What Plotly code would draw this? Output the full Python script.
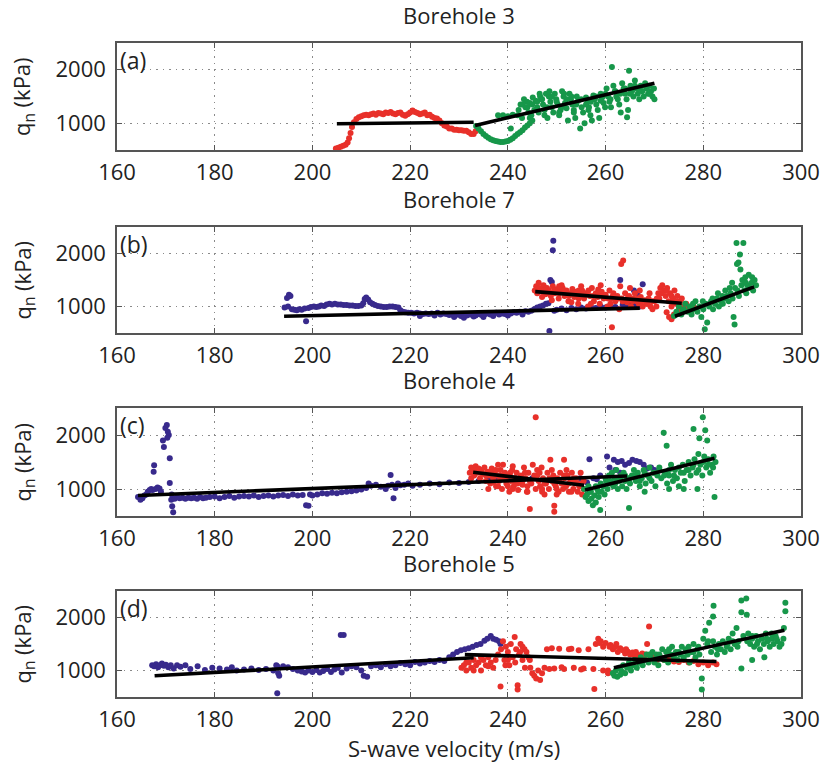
import plotly.graph_objects as go

# ---------------------------------------------------------------------------
# Net cone resistance q_n (kPa) against shear-wave velocity Vs (m/s)
# Each series is a list of (Vs, q_n) pairs; fits are (start, end) pairs.
# ---------------------------------------------------------------------------

bh3_red = [(204.8, 530), (205.3, 540), (205.8, 560), (206.3, 580), (206.8, 600), (207.2, 640),
           (207.5, 720), (207.8, 820), (208.1, 930), (208.5, 1020), (209.0, 1080), (209.5, 1110),
           (210.0, 1130), (210.5, 1150), (211.0, 1160), (211.5, 1150), (212.0, 1170), (212.5, 1180),
           (213.0, 1160), (213.5, 1190), (214.0, 1180), (214.5, 1170), (215.0, 1200), (215.5, 1190),
           (216.0, 1210), (216.5, 1180), (217.0, 1170), (217.5, 1190), (218.0, 1200), (218.5, 1160),
           (219.0, 1140), (219.5, 1170), (220.0, 1200), (220.5, 1240), (221.0, 1210), (221.5, 1190),
           (222.0, 1170), (222.5, 1180), (223.0, 1200), (223.5, 1150), (224.0, 1160), (224.5, 1120),
           (225.0, 1100), (225.5, 1090), (226.0, 1050), (226.5, 1000), (227.0, 960), (227.5, 940),
           (228.0, 900), (228.5, 900), (229.0, 880), (229.5, 880), (230.0, 870), (230.5, 870),
           (231.0, 860), (231.5, 860), (232.0, 830), (232.5, 800), (233.0, 800), (233.4, 850)]

bh3_green = [(233.5, 950), (234.0, 900), (234.5, 850), (235.0, 800), (235.5, 760), (236.0, 730),
             (236.5, 700), (237.0, 680), (237.5, 670), (238.0, 660), (238.5, 650), (239.0, 650),
             (239.5, 660), (240.0, 670), (240.5, 690), (241.0, 720), (241.5, 760), (242.0, 800),
             (242.5, 830), (243.0, 870), (243.5, 920), (244.0, 960), (244.5, 1000), (245.0, 1050),
             (238.0, 1150), (239.0, 1150), (240.0, 1130), (241.0, 1160), (240.6, 900),
             (242.2, 1250), (242.6, 1350), (242.9, 1100), (243.3, 1450), (243.6, 1300), (243.9, 1400),
             (244.2, 1200), (244.5, 1380), (244.8, 1150), (245.1, 1480), (245.4, 1250), (245.7, 1420),
             (246.0, 1300), (246.3, 1200), (246.6, 1500), (246.9, 1450), (247.2, 1350), (247.5, 1250),
             (247.8, 1550), (248.1, 1100), (248.4, 1500), (248.7, 1400), (249.0, 1300), (249.3, 1200),
             (249.6, 1550), (249.9, 1450), (250.2, 1350), (250.5, 1150), (250.8, 1250), (251.1, 1600),
             (251.4, 1500), (251.7, 1380), (252.0, 1280), (252.3, 1050), (252.6, 1550), (252.9, 1450),
             (253.2, 1350), (253.5, 1250), (253.8, 1100), (254.1, 1500), (254.4, 1420), (254.8, 900),
             (255.1, 1300), (255.4, 1200), (255.7, 1000), (256.0, 1480), (256.3, 1400), (256.6, 1300),
             (256.9, 1150), (257.2, 1050), (257.5, 1520), (257.8, 1450), (258.1, 1350), (258.4, 1250),
             (258.7, 1100), (259.0, 1550), (259.3, 1480), (259.6, 1380), (259.9, 1300), (260.2, 1650),
             (260.5, 1500), (260.8, 1400), (261.1, 1300), (261.3, 2050), (261.6, 1700), (261.9, 1600),
             (262.2, 1500), (262.5, 1450), (262.8, 1350), (263.1, 1200), (263.4, 1750), (263.7, 1650),
             (264.0, 1550), (264.3, 1450), (264.4, 1110), (264.6, 1250), (264.8, 1980), (265.1, 1700),
             (265.4, 1600), (265.7, 1500), (266.0, 1800), (266.3, 1650), (266.6, 1550), (266.9, 1450),
             (267.2, 1700), (267.5, 1600), (267.8, 1500), (268.1, 1750), (268.4, 1650), (268.7, 1550),
             (269.0, 1700), (269.3, 1600), (269.6, 1500), (269.9, 1650), (270.0, 1450),
             (242.0, 1150), (243.0, 1350), (244.0, 1300), (245.0, 1350), (246.0, 1400), (247.0, 1450),
             (248.0, 1300), (249.0, 1500), (250.0, 1400), (251.0, 1300), (252.0, 1450), (253.0, 1500),
             (254.0, 1350), (255.0, 1450), (256.0, 1350), (257.0, 1400), (258.0, 1500), (259.0, 1420),
             (260.0, 1550), (261.0, 1450), (262.0, 1600), (263.0, 1550), (264.0, 1650), (265.0, 1550),
             (266.0, 1700), (267.0, 1650), (268.0, 1700), (269.0, 1550), (246.5, 1550), (248.5, 1600),
             (251.5, 1550), (244.5, 1100), (247.5, 1150), (250.5, 1200), (253.5, 1200), (256.5, 1250)]

bh7_blue = [(194.3, 980), (194.8, 1160), (195.2, 1220), (195.5, 1200), (195.0, 1000), (195.8, 950),
            (196.3, 940), (196.8, 930), (197.3, 950), (197.8, 940), (198.4, 960), (198.7, 720),
            (199.2, 970), (199.7, 990), (200.3, 1000), (200.8, 990), (201.3, 1000), (201.8, 1020),
            (202.4, 1010), (202.9, 1040), (203.5, 1050), (204.0, 1040), (204.6, 1050), (205.2, 1040),
            (205.8, 1040), (206.4, 1030), (207.0, 1030), (207.6, 1020), (208.2, 1020), (208.8, 1010),
            (209.4, 1010), (210.0, 1020), (210.4, 1060), (210.7, 1140), (211.0, 1170), (211.4, 1130),
            (211.8, 1080), (212.3, 1050), (212.8, 1030), (213.4, 1010), (214.0, 1000), (214.6, 990),
            (215.2, 990), (215.8, 1000), (216.4, 1000), (217.0, 990), (217.6, 980), (218.0, 930),
            (218.5, 900), (219.0, 890), (219.6, 880), (220.2, 880), (220.8, 870), (221.4, 880),
            (222.0, 870), (222.6, 860), (223.2, 870), (223.8, 860), (224.4, 870), (225.0, 860),
            (225.6, 880), (226.2, 850), (226.8, 870), (227.4, 860), (228.0, 840), (228.6, 850),
            (229.2, 830), (229.8, 850), (230.4, 820), (231.0, 840), (231.6, 830), (232.2, 850),
            (232.8, 840), (233.4, 830), (234.0, 860), (234.6, 840), (235.2, 850), (235.8, 870),
            (236.4, 850), (237.0, 860), (237.6, 880), (238.2, 850), (238.8, 870), (239.4, 860),
            (240.0, 880), (240.6, 870), (241.2, 890), (241.8, 880), (242.4, 900), (243.0, 890),
            (243.6, 910), (244.2, 900), (244.8, 920), (245.4, 950), (246.0, 980), (246.6, 1000),
            (247.2, 1020), (247.8, 1050), (248.3, 1060), (248.7, 1500), (249.0, 1460), (249.2, 2060),
            (249.3, 2240), (248.5, 540), (249.5, 920), (250.0, 940), (251.0, 960), (252.0, 930),
            (253.0, 970), (254.0, 950), (255.0, 980), (256.0, 960), (257.0, 990), (258.0, 970),
            (259.0, 1000), (260.0, 980), (261.0, 1010), (262.0, 990), (263.0, 1500), (263.5, 1030),
            (264.0, 1000), (265.0, 1050), (265.8, 1300), (266.5, 1250), (267.6, 1420), (266.0, 1020),
            (267.0, 1000), (222.0, 820), (225.0, 830), (229.0, 800), (233.0, 810), (237.0, 820),
            (240.0, 830), (243.0, 850), (231.0, 790), (235.0, 800)]

bh7_red = [(245.5, 1300), (245.8, 1380), (246.0, 1250), (246.3, 1450), (246.6, 1320), (247.0, 1280),
           (247.3, 1400), (247.7, 1230), (248.0, 1350), (248.4, 1300), (248.8, 1200), (249.2, 1380),
           (249.6, 1250), (250.0, 1320), (250.4, 1150), (250.8, 1280), (251.2, 1350), (251.6, 1200),
           (252.0, 1300), (252.4, 1100), (252.8, 1250), (253.2, 1330), (253.6, 1180), (254.0, 1280),
           (254.4, 1050), (254.8, 1220), (255.2, 1300), (255.6, 1150), (256.0, 1250), (256.4, 1000),
           (256.8, 1200), (257.2, 1350), (257.6, 1100), (258.0, 1250), (258.4, 1180), (258.8, 1050),
           (259.2, 1280), (259.6, 1150), (260.0, 1220), (260.4, 1000), (260.8, 1300), (261.3, 610),
           (261.2, 1150), (261.6, 1250), (262.0, 1100), (262.4, 1200), (262.8, 950), (263.2, 1800),
           (263.6, 1870), (263.3, 1150), (264.0, 1250), (264.4, 1080), (264.8, 1200), (265.2, 1000),
           (265.6, 1150), (266.0, 1250), (266.4, 1100), (266.8, 1050), (267.2, 1180), (267.6, 1000),
           (268.0, 1120), (268.4, 1050), (268.8, 1150), (269.2, 1000), (269.6, 950), (270.0, 1100),
           (270.4, 1000), (270.8, 1250), (271.2, 1350), (271.6, 1400), (272.0, 1300), (272.3, 1200),
           (272.6, 1350), (272.9, 1100), (273.2, 1250), (273.5, 1000), (273.8, 1150), (274.1, 1300),
           (274.4, 1050), (274.7, 1200), (275.0, 950), (275.3, 1100), (275.6, 1150), (272.5, 890),
           (273.0, 800), (273.5, 760), (274.0, 850), (276.0, 1000), (276.5, 1050), (277.0, 950),
           (277.5, 1000), (278.0, 1000), (247.0, 1180), (249.0, 1120), (251.0, 1400), (253.0, 1080),
           (255.0, 1380), (257.0, 1050), (259.0, 1400), (261.0, 1050), (263.0, 1380), (265.0, 1350),
           (267.0, 1300), (269.0, 1250), (271.0, 1150), (250.5, 1380), (254.5, 1150), (258.5, 1320),
           (246.5, 1350), (247.5, 1300), (248.5, 1250), (249.5, 1300), (250.5, 1250), (251.5, 1300),
           (252.5, 1200), (253.5, 1250), (254.5, 1300), (255.5, 1200), (256.5, 1300), (257.5, 1200),
           (258.5, 1250), (259.5, 1200), (260.5, 1150), (261.5, 1200), (262.5, 1150), (263.5, 1100),
           (264.5, 1150), (265.5, 1100), (266.5, 1150), (267.5, 1100), (268.5, 1050), (269.5, 1100),
           (270.5, 1150), (271.5, 1250), (272.5, 1300), (273.5, 1200), (274.5, 1100), (275.5, 1000),
           (276.5, 950), (277.5, 900)]

bh7_green = [(274.0, 820), (274.5, 900), (275.0, 1000), (275.5, 850), (276.0, 950), (276.3, 1050),
             (276.8, 900), (277.2, 1000), (277.6, 850), (278.0, 950), (278.4, 1100), (278.8, 900),
             (279.2, 1000), (279.6, 800), (280.0, 950), (280.3, 570), (280.5, 1050), (280.8, 700),
             (281.2, 1000), (281.6, 1100), (282.0, 950), (282.4, 1050), (282.8, 1150), (283.2, 1000),
             (283.6, 1100), (284.0, 1050), (284.4, 1150), (284.8, 1200), (285.2, 1100), (285.6, 1250),
             (286.0, 1150), (286.4, 660), (286.2, 800), (286.8, 2200), (287.0, 1300), (287.3, 1200),
             (287.5, 1980), (287.2, 1830), (286.9, 1800), (288.2, 2200), (287.8, 1400), (288.0, 1500),
             (288.4, 1300), (288.6, 1550), (288.8, 1250), (289.0, 1400), (289.3, 1600), (289.6, 1350),
             (289.9, 1450), (290.2, 1300), (290.5, 1500), (290.8, 1400), (286.5, 1350), (285.9, 1450),
             (287.6, 1700), (284.5, 1300), (283.0, 1250), (275.8, 920), (277.9, 1050), (279.9, 1100),
             (281.9, 1150), (283.9, 1200), (285.4, 1350), (288.7, 1450), (290.0, 1550)]

bh4_blue = [(164.3, 850), (164.8, 800), (165.2, 830), (165.6, 880), (166.0, 900), (166.3, 950),
            (166.7, 980), (167.0, 1000), (167.3, 980), (167.6, 1440), (167.5, 1320), (167.9, 1000),
            (168.3, 1030), (168.7, 1010), (169.0, 950), (169.4, 1900), (169.6, 1780), (169.9, 2130),
            (170.2, 2185), (170.4, 2060), (170.6, 2000), (170.3, 1950), (170.8, 1570), (170.8, 1110),
            (171.1, 800), (171.3, 680), (171.5, 570), (171.2, 900), (171.8, 820), (172.3, 850),
            (172.8, 830), (173.4, 840), (174.0, 820), (174.6, 840), (175.2, 830), (175.8, 840),
            (176.4, 820), (177.0, 850), (177.6, 830), (178.2, 840), (179.0, 850), (180.0, 860),
            (181.0, 830), (182.0, 850), (183.0, 870), (184.0, 840), (185.0, 860), (186.0, 870),
            (187.0, 860), (188.0, 880), (189.0, 850), (190.0, 870), (191.0, 880), (192.0, 860),
            (193.0, 880), (194.0, 890), (195.0, 870), (196.0, 900), (197.0, 880), (198.0, 890),
            (198.7, 700), (199.2, 690), (199.5, 900), (200.0, 880), (201.0, 900), (202.0, 920),
            (203.0, 910), (204.0, 930), (205.0, 920), (206.0, 940), (207.0, 950), (208.0, 960),
            (209.0, 970), (210.0, 990), (211.0, 1020), (211.5, 1100), (212.0, 1060), (213.0, 1080),
            (214.0, 1040), (215.0, 1000), (215.5, 1060), (216.0, 1260), (216.3, 1080), (216.6, 830),
            (217.0, 1020), (217.5, 1100), (218.0, 1070), (218.8, 1080), (219.6, 1100), (220.5, 1060),
            (222.0, 1080), (224.0, 1100), (226.0, 1090), (228.0, 1120), (230.0, 1110), (232.0, 1130),
            (234.0, 1150), (236.0, 1180), (238.0, 1180), (240.0, 1160), (245.0, 1200), (250.0, 1180),
            (254.8, 1200), (255.5, 1150), (256.2, 1120), (256.7, 1550), (257.5, 1200), (258.2, 1180),
            (258.9, 1250), (260.3, 1600), (261.7, 1540), (262.5, 1500), (263.3, 1520), (264.0, 1450),
            (264.8, 1480), (265.5, 1540), (266.3, 1520), (267.0, 1500), (267.8, 1450), (268.5, 1380),
            (269.3, 1400), (270.0, 1350), (260.8, 1400), (262.0, 1350), (263.0, 1300)]

bh4_red = [(232.2, 1300), (232.5, 1400), (232.8, 1350), (233.1, 1250), (233.4, 1420), (233.7, 1300),
           (234.0, 1380), (234.3, 1200), (234.6, 1350), (234.9, 1280), (235.2, 1400), (235.5, 1150),
           (235.8, 1320), (236.1, 1250), (236.4, 1100), (236.7, 1380), (237.0, 1200), (237.3, 1300),
           (237.6, 1050), (237.9, 1250), (238.2, 1150), (238.5, 1350), (238.8, 1000), (239.1, 1200),
           (239.4, 1300), (239.7, 1100), (240.0, 1250), (240.3, 950), (240.6, 1150), (240.9, 1350),
           (241.2, 1050), (241.5, 1200), (241.8, 1300), (242.1, 980), (242.4, 1150), (242.7, 1250),
           (243.0, 1080), (243.3, 1400), (243.6, 1200), (243.9, 950), (244.2, 1300), (244.5, 630),
           (244.8, 1100), (245.1, 1450), (245.7, 2330), (245.4, 1250), (245.7, 1000), (246.0, 1350),
           (246.3, 1150), (246.6, 1050), (246.9, 1400), (247.2, 1200), (247.5, 900), (247.8, 1100),
           (248.1, 1300), (248.4, 1000), (248.7, 1540), (249.0, 1150), (249.3, 1250), (249.5, 580),
           (249.5, 690), (249.8, 1050), (250.1, 1200), (250.4, 950), (250.7, 1300), (251.0, 1100),
           (251.5, 1540), (251.3, 1000), (251.6, 1200), (251.9, 1050), (252.2, 1250), (252.5, 950),
           (252.8, 1150), (253.1, 1300), (253.4, 1000), (253.7, 1100), (254.0, 1200), (254.3, 950),
           (254.6, 1050), (254.9, 1300), (255.2, 900), (255.5, 1000), (238.0, 1450), (241.0, 1420),
           (236.0, 1000), (239.0, 1450), (243.0, 1150), (246.0, 1250), (237.0, 1120), (240.0, 1050),
           (242.0, 1100), (244.0, 1050), (247.0, 1000), (249.0, 1350), (250.0, 1000), (252.0, 1350),
           (232.5, 1200), (233.5, 1350), (234.5, 1300), (235.5, 1250), (236.5, 1300), (237.5, 1350),
           (238.5, 1250), (239.5, 1200), (240.5, 1300), (241.5, 1100), (242.5, 1200), (243.5, 1300),
           (244.5, 1150), (245.5, 1200), (246.5, 1300), (247.5, 1100), (248.5, 1200), (249.5, 1100),
           (250.5, 1150), (251.5, 1250), (252.5, 1100), (253.5, 1200), (254.5, 1100), (255.5, 1150),
           (238.0, 1050), (241.0, 1000), (244.0, 950), (247.0, 950), (250.0, 900), (253.0, 950)]

bh4_green = [(255.6, 1000), (255.9, 850), (256.2, 900), (256.5, 780), (256.8, 950), (257.1, 820),
             (257.4, 700), (257.7, 880), (258.0, 750), (258.3, 1000), (258.6, 850), (258.9, 610),
             (259.2, 950), (259.5, 1050), (259.8, 900), (260.1, 1150), (260.4, 1000), (260.7, 1250),
             (261.0, 1100), (261.3, 1300), (261.6, 1050), (261.9, 1200), (262.2, 1350), (262.5, 1000),
             (262.8, 1150), (263.1, 1250), (263.4, 1050), (263.7, 1300), (264.0, 1150), (264.3, 1000),
             (264.8, 650), (264.6, 1200), (265.0, 1100), (265.4, 1250), (265.8, 1350), (266.2, 1150),
             (266.6, 1300), (267.0, 1050), (267.4, 1200), (267.8, 1350), (268.2, 1100), (268.6, 1250),
             (269.0, 1400), (269.4, 1150), (269.8, 1300), (270.2, 1050), (270.6, 1250), (271.0, 1400),
             (271.4, 1200), (271.9, 2040), (272.5, 1800), (272.2, 1300), (272.6, 1100), (273.0, 1250),
             (273.4, 1450), (273.8, 1150), (274.2, 1350), (274.6, 1200), (275.0, 1050), (275.4, 1300),
             (275.8, 1450), (276.2, 1150), (276.6, 1350), (277.0, 1500), (277.4, 1250), (277.8, 1400),
             (278.0, 2110), (278.2, 1550), (278.6, 1300), (279.0, 1650), (279.2, 1940), (279.9, 2330),
             (279.4, 1450), (279.8, 1250), (280.2, 1600), (280.4, 2090), (280.6, 1400), (280.8, 1900),
             (281.0, 1550), (281.4, 1300), (281.8, 1450), (282.1, 1600), (282.3, 850), (282.5, 1500),
             (276.0, 1000), (273.0, 1000), (268.0, 950), (278.8, 1000),
             (257.0, 950), (258.0, 1050), (259.0, 1100), (260.0, 1200), (261.0, 1150), (262.0, 1100),
             (263.0, 1200), (264.0, 1250), (265.0, 1200), (266.0, 1250), (267.0, 1150), (268.0, 1300),
             (269.0, 1200), (270.0, 1300), (271.0, 1350), (272.0, 1250), (273.0, 1350), (274.0, 1250),
             (275.0, 1400), (276.0, 1300), (277.0, 1350), (278.0, 1450), (279.0, 1350), (280.0, 1500),
             (281.0, 1450), (282.0, 1400), (256.5, 1050), (258.5, 950)]

bh5_blue = [(167.2, 1100), (167.6, 1080), (168.0, 1120), (168.4, 1060), (168.8, 1100), (169.2, 1130),
            (169.6, 1090), (170.0, 1110), (170.5, 1060), (171.0, 1100), (171.6, 1040), (172.3, 1100),
            (173.0, 1070), (174.0, 1100), (175.0, 1030), (176.5, 1080), (178.0, 1010), (179.5, 1050),
            (181.0, 1040), (182.5, 1020), (183.5, 1060), (184.5, 1000), (186.0, 1020), (187.5, 1040),
            (189.0, 1010), (190.5, 1030), (192.0, 1000), (192.6, 1100), (192.8, 1080), (193.0, 950),
            (193.2, 900), (192.8, 570), (194.0, 1080), (195.0, 1060), (196.0, 1030), (197.0, 1000),
            (197.8, 980), (198.5, 960), (199.2, 1000), (200.0, 970), (200.8, 1010), (201.5, 960),
            (202.2, 990), (203.0, 1030), (203.8, 970), (204.5, 1020), (205.2, 1050), (205.8, 1670),
            (206.4, 1670), (206.0, 960), (207.0, 1040), (208.0, 1080), (209.0, 1060), (210.0, 1000),
            (210.5, 900), (211.2, 880), (212.0, 1080), (213.0, 1100), (214.0, 1060), (215.0, 1120),
            (216.0, 1080), (217.0, 1100), (218.0, 1140), (219.0, 1120), (220.0, 1100), (221.0, 1160),
            (222.0, 1130), (223.0, 1150), (224.0, 1180), (225.0, 1160), (226.0, 1200), (227.0, 1180),
            (228.0, 1250), (228.8, 1300), (229.6, 1350), (230.4, 1380), (231.2, 1400), (232.0, 1420),
            (232.8, 1450), (233.6, 1480), (234.4, 1500), (235.2, 1560), (235.8, 1600), (236.5, 1650),
            (237.0, 1600), (237.6, 1580), (238.2, 1550), (238.5, 1500)]

bh5_red = [(230.5, 1050), (231.0, 1100), (231.5, 1000), (232.0, 1150), (232.5, 1050), (233.0, 1200),
           (233.5, 1100), (234.0, 1150), (234.5, 1000), (235.0, 1200), (235.5, 1100), (236.0, 1250),
           (236.5, 1150), (237.0, 1050), (237.5, 1200), (238.0, 1300), (238.5, 700), (238.6, 1400),
           (239.0, 1550), (239.3, 1200), (239.6, 1450), (240.0, 1350), (240.3, 1100), (240.6, 1500),
           (241.0, 1250), (241.4, 1630), (241.7, 1400), (242.0, 720), (242.0, 640), (242.3, 1300),
           (242.6, 1500), (243.0, 1200), (243.4, 1400), (243.8, 1350), (244.2, 1250), (244.6, 1050),
           (245.0, 950), (245.4, 900), (245.8, 850), (246.2, 1000), (246.6, 820), (247.0, 950),
           (247.5, 1050), (248.5, 1030), (249.5, 1040), (250.5, 1410), (251.5, 1030), (252.5, 1400),
           (253.5, 1050), (254.5, 1380), (255.5, 1040), (256.5, 1400), (257.7, 650), (257.5, 1030),
           (258.0, 1500), (258.5, 1600), (259.0, 1550), (259.5, 1450), (260.0, 1520), (260.5, 1000),
           (261.0, 1480), (261.5, 1400), (262.0, 1450), (262.5, 1350), (263.0, 1420), (263.5, 1380),
           (264.0, 1320), (264.5, 1360), (265.0, 1300), (265.5, 1340), (266.0, 1280), (266.5, 1300),
           (267.0, 1250), (267.5, 1320), (268.0, 1260), (268.5, 1500), (268.9, 1830), (269.2, 1280),
           (269.6, 1220), (270.0, 1250), (270.5, 1200), (271.0, 1280), (271.5, 1230), (272.0, 1200),
           (272.5, 1250), (273.0, 1180), (273.5, 1230), (274.0, 1170), (274.5, 1200), (275.0, 1160),
           (276.0, 1200), (277.0, 1150), (278.0, 1180), (279.0, 1120), (280.0, 1150), (281.0, 1100),
           (282.0, 1150), (282.7, 1120), (248.0, 1400), (249.0, 1420), (251.0, 1060), (253.0, 1410),
           (255.0, 1020), (259.5, 1000), (260.5, 950), (233.0, 1000), (236.0, 1080), (240.0, 1200),
           (243.0, 1450), (231.5, 1150), (234.5, 1250), (240.5, 1250), (242.5, 1350), (244.5, 1200),
           (239.5, 1100), (241.5, 1150), (243.5, 1050), (262.2, 1500), (264.2, 1400), (266.2, 1350),
           (268.2, 1300), (270.2, 1200), (258.8, 1520), (260.8, 1450)]

bh5_green = [(261.5, 950), (261.8, 900), (262.1, 1000), (262.4, 880), (262.7, 1050), (263.0, 920),
             (263.3, 980), (263.6, 1100), (264.0, 950), (264.4, 1050), (264.8, 1150), (265.2, 1000),
             (265.6, 1100), (266.0, 1200), (266.4, 1050), (266.8, 1150), (267.2, 1250), (267.6, 1100),
             (268.0, 1200), (268.4, 1300), (268.8, 1150), (269.2, 1250), (269.6, 1350), (270.0, 1200),
             (270.4, 1300), (270.8, 1100), (271.2, 1250), (271.6, 1400), (272.0, 1200), (272.4, 1350),
             (272.8, 1150), (273.2, 1300), (273.6, 1450), (274.0, 1250), (274.4, 1350), (274.8, 1200),
             (275.2, 1300), (275.6, 1450), (276.0, 1250), (276.4, 1400), (276.8, 1300), (277.2, 1150),
             (277.6, 1350), (278.0, 1500), (278.4, 1250), (278.8, 1400), (279.2, 1300), (279.7, 850),
             (279.7, 640), (280.0, 1600), (280.4, 1750), (280.8, 1500), (281.2, 1900), (281.6, 1350),
             (282.1, 2220), (282.0, 2020), (282.4, 1450), (282.8, 1300), (283.2, 1500), (283.6, 1400),
             (284.0, 1550), (284.4, 1350), (284.8, 1450), (285.2, 1600), (285.6, 1400), (286.0, 1700),
             (286.4, 1500), (286.8, 1800), (287.2, 1550), (287.8, 2320), (287.8, 2100), (287.8, 1040),
             (288.2, 1650), (288.8, 2360), (288.9, 2050), (289.2, 1700), (289.6, 1500), (290.0, 1600),
             (290.4, 1450), (290.8, 1650), (291.2, 1550), (291.6, 1400), (292.0, 1600), (292.4, 1500),
             (292.8, 1700), (293.2, 1550), (293.6, 1450), (294.0, 1600), (294.4, 1500), (294.8, 1650),
             (295.2, 1550), (295.6, 1450), (296.0, 1500), (296.4, 1600), (296.8, 2280), (296.8, 2120),
             (296.5, 1800), (290.0, 1200), (292.5, 1250),
             (263.0, 1050), (265.0, 1100), (267.0, 1150), (269.0, 1300), (271.0, 1300), (273.0, 1400),
             (275.0, 1350), (277.0, 1450), (279.0, 1450), (281.0, 1550), (283.0, 1400), (285.0, 1500),
             (287.0, 1450), (289.0, 1550), (291.0, 1500), (293.0, 1600), (295.0, 1600), (270.0, 1150),
             (274.0, 1300), (278.0, 1350), (282.0, 1550), (286.0, 1550), (290.0, 1650), (294.0, 1700)]

# Linear fits for each velocity group: ((Vs0, q0), (Vs1, q1))
bh3_fits = [((205.0, 990), (233.0, 1020)), ((233.3, 960), (270.0, 1750))]
bh7_fits = [((194.2, 815), (267.0, 970)), ((245.6, 1280), (275.6, 1060)), ((274.2, 815), (290.4, 1370))]
bh4_fits = [((164.3, 880), (264.4, 1240)), ((232.9, 1310), (255.6, 1070)), ((255.8, 980), (282.3, 1570))]
bh5_fits = [((167.7, 900), (233.0, 1240)), ((231.2, 1300), (282.7, 1170)), ((261.7, 1050), (296.6, 1760))]

panel_titles = ["Borehole 3", "Borehole 7", "Borehole 4", "Borehole 5"]
panel_tags = ["(a)", "(b)", "(c)", "(d)"]
x_ticks = [160, 180, 200, 220, 240, 260, 280, 300]
y_ticks = [1000, 2000]

BLUE = "#382a8c"
RED = "#e8302a"
GREEN = "#17974a"
TEXT = "#222222"
FONT = "Open Sans"

panels = [
    ([("red", bh3_red), ("green", bh3_green)], bh3_fits),
    ([("blue", bh7_blue), ("red", bh7_red), ("green", bh7_green)], bh7_fits),
    ([("blue", bh4_blue), ("red", bh4_red), ("green", bh4_green)], bh4_fits),
    ([("blue", bh5_blue), ("red", bh5_red), ("green", bh5_green)], bh5_fits),
]
colors = {"blue": BLUE, "red": RED, "green": GREEN}

# Pixel layout of the figure (top/bottom of each axes box, from the top edge)
W, H = 832, 766
ML, MR, MT, MB = 117, 27, 43, 69
plot_h = H - MT - MB
boxes = [(43, 150), (227, 333), (408, 516), (591, 697)]


def py(px):
    """Convert a pixel row to paper y."""
    return (H - MB - px) / plot_h


def pxx(px):
    """Convert a pixel column to paper x."""
    return (px - ML) / (W - ML - MR)


fig = go.Figure()

for i, (series, fits) in enumerate(panels):
    ax = "" if i == 0 else str(i + 1)
    for name, pts in series:
        fig.add_trace(go.Scatter(
            x=[p[0] for p in pts], y=[p[1] for p in pts],
            mode="markers", xaxis="x" + ax, yaxis="y" + ax,
            marker=dict(color=colors[name], size=6, line=dict(width=0)),
            showlegend=False, hoverinfo="skip"))
    for (x0, y0), (x1, y1) in fits:
        fig.add_trace(go.Scatter(
            x=[x0, x1], y=[y0, y1], mode="lines", xaxis="x" + ax, yaxis="y" + ax,
            line=dict(color="black", width=3.6), showlegend=False, hoverinfo="skip"))

axis_common = dict(
    showline=True, linecolor="#555555", linewidth=1.5, mirror="ticks",
    ticks="inside", ticklen=5, tickcolor="#555555", tickwidth=1,
    showgrid=True, gridcolor="#8a8a8a", griddash="1.5px,5px", gridwidth=1,
    zeroline=False, tickfont=dict(family=FONT, size=22, color=TEXT),
)

layout = dict(
    width=W, height=H, plot_bgcolor="white", paper_bgcolor="white",
    margin=dict(l=ML, r=MR, t=MT, b=MB), font=dict(family=FONT, color=TEXT),
)

annotations = []
for i, (top, bot) in enumerate(boxes):
    ax = "" if i == 0 else str(i + 1)
    layout["xaxis" + ax] = dict(axis_common, domain=[0, 1], anchor="y" + ax,
                                range=[160, 300], tickvals=x_ticks, ticklabelstandoff=2)
    layout["yaxis" + ax] = dict(axis_common, domain=[py(bot), py(top)], anchor="x" + ax,
                                range=[500, 2500], tickvals=y_ticks, ticklabelstandoff=5)
    annotations.append(dict(text=panel_titles[i], xref="paper", yref="paper",
                            x=0.5, y=py(top - 28), xanchor="center", yanchor="middle",
                            showarrow=False, font=dict(family=FONT, size=22, color=TEXT)))
    annotations.append(dict(text=panel_tags[i], xref="paper", yref="paper",
                            x=pxx(118), y=py(top + 17), xanchor="left", yanchor="middle",
                            showarrow=False, font=dict(family=FONT, size=23, color=TEXT)))
    annotations.append(dict(text="q<sub>n</sub> (kPa)", xref="paper", yref="paper",
                            x=pxx(23), y=py((top + bot) / 2), xanchor="center", yanchor="middle",
                            textangle=-90, showarrow=False,
                            font=dict(family=FONT, size=22, color=TEXT)))

annotations.append(dict(text="S-wave velocity (m/s)", xref="paper", yref="paper",
                        x=pxx(456), y=py(748), xanchor="center", yanchor="middle",
                        showarrow=False, font=dict(family=FONT, size=22, color=TEXT)))
layout["annotations"] = annotations

fig.update_layout(**layout)
fig.write_html("out.html")
